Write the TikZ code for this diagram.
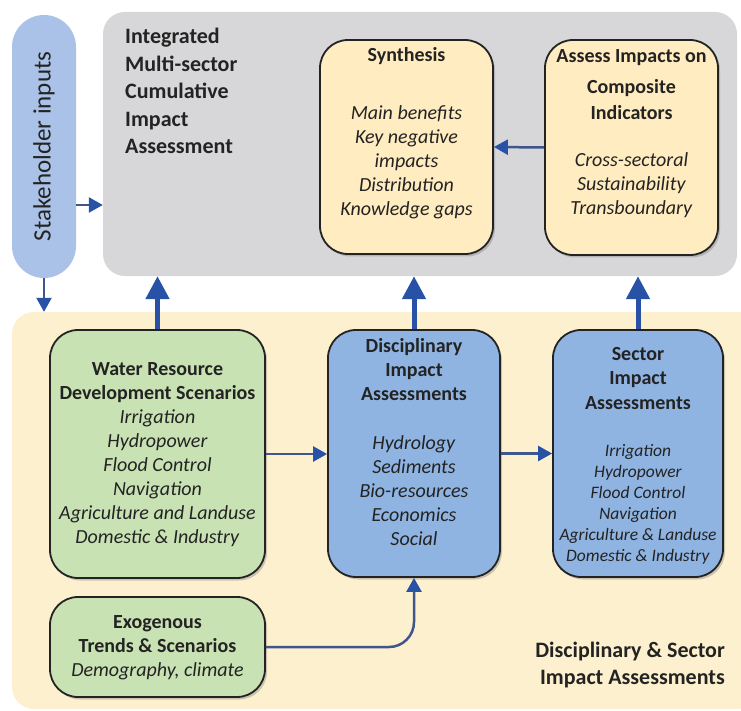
\documentclass[tikz,border=0pt]{standalone}
\usepackage{fontspec}
\setmainfont{Carlito}
\usetikzlibrary{arrows.meta,positioning,shadows}

\definecolor{grayreg}{RGB}{215,215,217}
\definecolor{yellowreg}{RGB}{253,240,206}
\definecolor{yellowbox}{RGB}{255,236,192}
\definecolor{greenbox}{RGB}{200,226,180}
\definecolor{bluebox}{RGB}{143,180,226}
\definecolor{stakeblue}{RGB}{170,194,232}
\definecolor{arrowline}{RGB}{62,86,140}
\definecolor{arrowhead}{RGB}{40,82,165}
\definecolor{textdark}{RGB}{35,35,35}

\begin{document}
\begin{tikzpicture}[x=1pt,y=-1pt,
    region/.style={rounded corners=22pt,inner sep=0pt},
    roundbox/.style={draw=textdark,line width=1.8pt,rounded corners=28pt,inner sep=0pt,
      drop shadow={shadow xshift=2pt,shadow yshift=-2.5pt,opacity=0.4}},
    boxtext/.style={align=center,inner sep=0pt,text=textdark,font=\fontsize{20}{24}\selectfont},
    thin arrow/.style={line width=2.5pt,draw=arrowline,-{Triangle[width=15pt,length=14pt,color=arrowhead]}},
    thick arrow/.style={line width=5pt,draw=arrowhead,-{Triangle[width=23pt,length=23pt]}}]
  \useasboundingbox (0,0) rectangle (741,711);

  % regions
  \node[region,fill=grayreg,minimum width=634pt,minimum height=264pt] (cumulative) at (420,144) {};
  \node[region,fill=yellowreg,minimum width=748pt,minimum height=397pt] (impacts) at (386,510.5) {};
  \node[rounded corners=32pt,fill=stakeblue,rotate=90,minimum width=263pt,minimum height=64pt,
    text=textdark,font=\fontsize{25}{30}\selectfont] (stake) at (44,146.5) {Stakeholder inputs};

  \node[anchor=north west,align=left,inner sep=0pt,text=textdark,font=\fontsize{22}{27.5}\selectfont\bfseries]
    (cumulative-title) at (125,28) {Integrated\\Multi-sector\\Cumulative\\Impact\\Assessment};
  \node[anchor=north east,align=right,inner sep=0pt,text=textdark,font=\fontsize{22}{27}\selectfont\bfseries]
    (impacts-title) at (725,642) {Disciplinary \& Sector\\Impact Assessments};

  % top boxes
  \node[roundbox,fill=yellowbox,minimum width=173pt,minimum height=214pt] (synthesis) at (406.5,147) {};
  \node[boxtext,below=8pt of synthesis.north] (synthesis-text)
    {\textbf{Synthesis}\\[34pt]\textit{Main benefits}\\\textit{Key negative}\\\textit{impacts}\\
     \textit{Distribution}\\\textit{Knowledge gaps}};
  \node[roundbox,fill=yellowbox,minimum width=173pt,minimum height=215pt] (composite) at (631.5,147.5) {};
  \node[boxtext,below=10pt of composite.north] (composite-text)
    {\textbf{Assess Impacts on}\\[7pt]\textbf{Composite}\\[2pt]\textbf{Indicators}\\[23pt]
     \textit{Cross-sectoral}\\\textit{Sustainability}\\\textit{Transboundary}};

  % bottom boxes
  \node[roundbox,fill=greenbox,minimum width=215pt,minimum height=248pt] (scenarios) at (157.5,454) {};
  \node[boxtext,below=33pt of scenarios.north] (scenarios-text)
    {\textbf{Water Resource}\\\textbf{Development Scenarios}\\\textit{Irrigation}\\\textit{Hydropower}\\
     \textit{Flood Control}\\\textit{Navigation}\\\textit{Agriculture and Landuse}\\\textit{Domestic \& Industry}};
  \node[roundbox,fill=greenbox,minimum width=215pt,minimum height=100pt] (exogenous) at (157.5,647) {};
  \node[boxtext,below=19pt of exogenous.north] (exogenous-text)
    {\textbf{Exogenous}\\\textbf{Trends \& Scenarios}\\\textit{Demography, climate}};
  \node[roundbox,fill=bluebox,minimum width=172pt,minimum height=247pt] (disciplinary) at (414,453.5) {};
  \node[boxtext,below=9pt of disciplinary.north] (disciplinary-text)
    {\textbf{Disciplinary}\\\textbf{Impact}\\\textbf{Assessments}\\[25pt]\textit{Hydrology}\\\textit{Sediments}\\
     \textit{Bio-resources}\\\textit{Economics}\\\textit{Social}};
  \node[roundbox,fill=bluebox,minimum width=170pt,minimum height=247pt] (sector) at (638,453.5) {};
  \node[boxtext,font=\fontsize{17.5}{21}\selectfont,below=18pt of sector.north] (sector-text)
    {\textbf{\fontsize{20}{24}\selectfont Sector}\\[3.5pt]\textbf{\fontsize{20}{24}\selectfont Impact}\\[3.5pt]
     \textbf{\fontsize{20}{24}\selectfont Assessments}\\[26pt]\textit{Irrigation}\\\textit{Hydropower}\\
     \textit{Flood Control}\\\textit{Navigation}\\\textit{Agriculture \& Landuse}\\\textit{Domestic \& Industry}};

  % connectors
  \draw[thin arrow] ([yshift=-58.5pt]stake.south) -- ([yshift=-58.5pt]stake.south -| cumulative.west);
  \draw[thin arrow] (stake.west) -- (stake.west |- impacts.north);
  \draw[thin arrow] (composite.west) -- (synthesis.east);
  \draw[thin arrow] (scenarios.east) -- (scenarios.east -| disciplinary.west);
  \draw[thin arrow] (disciplinary.east) -- (disciplinary.east -| sector.west);
  \draw[thin arrow,rounded corners=25pt] (exogenous.east) -| (disciplinary.south);
  \draw[thick arrow] (scenarios.north) -- (scenarios.north |- cumulative.south);
  \draw[thick arrow] (disciplinary.north) -- (disciplinary.north |- cumulative.south);
  \draw[thick arrow] (sector.north) -- (sector.north |- cumulative.south);
\end{tikzpicture}
\end{document}
